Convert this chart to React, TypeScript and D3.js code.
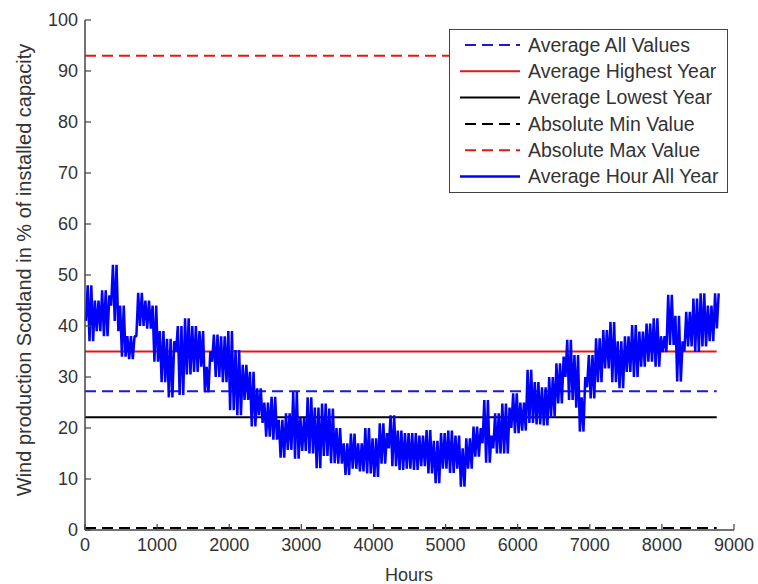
import React from "react";
import * as d3 from "d3";

// hourly average wind output, read off the picture as the band's
// low and high in every 50-hour bin (the plot holds 8760 points)
const BIN_HOURS = 50;
const binLow = [
  41, 37, 37, 39, 39, 38, 38, 44, 41, 39, 34, 34, 33.5, 33.5, 38, 40, 40, 39.5, 39.5, 33,
  33, 29, 29, 26, 26, 35, 26.5, 26.5, 30.5, 30.5, 31, 31, 32, 27, 27, 33, 30, 30, 29, 29,
  23.5, 23.5, 22.5, 22.5, 25.5, 25.5, 20.3, 20.3, 22.5, 21, 18.3, 18.3, 17.7, 17.7, 14.2, 14.2, 15.7, 15.7, 14, 14,
  15.5, 15.5, 15, 15, 12.1, 12.1, 14.5, 14.5, 13.1, 13.1, 13, 13, 10.8, 10.8, 12, 12, 11.5, 11.5, 11.1, 11.1,
  10.4, 10.4, 13, 13, 16, 12.5, 12.5, 11.8, 11.8, 12, 12, 11.8, 11.8, 12.5, 12.5, 11.1, 11.1, 9.2, 9.2, 12,
  12, 11.2, 11.2, 12, 8.5, 8.5, 12, 12, 14.4, 14.4, 17, 13.2, 13.2, 16, 15, 15, 15, 15, 20, 19,
  19, 19.5, 19.5, 21, 21, 20.7, 20.7, 20.5, 20.5, 22.2, 22.2, 24.8, 24.8, 30, 25.5, 25.5, 24, 19.3, 19.3, 28,
  25.8, 25.8, 29, 29, 31.7, 31.7, 29, 29, 27.8, 27.8, 31, 31, 30, 30, 32, 32, 33, 33, 32, 32,
  34.9, 34.9, 36.3, 36.3, 29.1, 29.1, 35, 36, 36, 34.9, 34.9, 36, 36, 37, 37, 39.5,
];
const binHigh = [
  48, 48, 45, 45, 47, 47, 46, 52, 52, 44, 44, 38, 38, 38, 46.5, 46.5, 45, 45, 44, 44,
  39, 39, 37.5, 37.5, 37, 40, 40, 41.5, 41.5, 40, 40, 39, 39, 32, 35, 38.3, 38.3, 38, 38, 39,
  39, 35.3, 35.3, 32.4, 32.4, 31, 31, 27.8, 27.8, 25, 25, 26.1, 26.1, 21.6, 21.6, 22.9, 22.9, 27.1, 27.1, 22,
  22, 26, 26, 24, 24, 24.8, 24.8, 23.8, 23.8, 20, 20, 17, 17, 18.9, 18.9, 17, 17, 20, 20, 18,
  18, 20.9, 20.9, 19, 22.5, 22.5, 19.5, 19.5, 19, 19, 19, 19, 18.5, 18.5, 19.6, 19.6, 17.5, 17.5, 19, 19,
  19.5, 19.5, 18.5, 18.5, 16, 18, 18, 20.3, 20.3, 20, 25.5, 25.5, 18.5, 22.9, 22.9, 24.8, 24.8, 24, 26.8, 26.8,
  25, 25, 31.4, 31.4, 29, 29, 28, 28, 30, 30, 32.7, 32.7, 34, 37.3, 37.3, 34.3, 34.3, 26, 30, 34.3,
  34.3, 37.6, 37.6, 39.2, 39.2, 40.8, 40.8, 37, 37, 38, 38, 40.2, 40.2, 38.9, 38.9, 40.5, 40.5, 41.5, 41.5, 38,
  38, 46.1, 46.1, 42, 42, 37, 42.8, 42.8, 45.4, 45.4, 46.4, 46.4, 44, 44, 46.4, 46.4,
];

const refLines = [
  { name: "Average All Values", value: 27.2, color: "#1a1ad8", dash: "11,6" },
  { name: "Average Highest Year", value: 35.0, color: "#e01818", dash: "" },
  { name: "Average Lowest Year", value: 22.1, color: "#000000", dash: "" },
  { name: "Absolute Min Value", value: 0.4, color: "#000000", dash: "11,6" },
  { name: "Absolute Max Value", value: 93.0, color: "#e01818", dash: "11,6" },
];
const seriesName = "Average Hour All Year";
const yearHours = 8760;

const xTicks = [0, 1000, 2000, 3000, 4000, 5000, 6000, 7000, 8000, 9000];
const yTicks = [0, 10, 20, 30, 40, 50, 60, 70, 80, 90, 100];

export default function App() {
  const x = d3.scaleLinear().domain([0, 9000]).range([85, 734]);
  const y = d3.scaleLinear().domain([0, 100]).range([530, 20]);

  // each bin becomes a low point then a high point, as a dense plot renders
  const pts = binLow.flatMap((lo, i) => [
    { h: i * BIN_HOURS + BIN_HOURS * 0.25, v: lo },
    { h: i * BIN_HOURS + BIN_HOURS * 0.75, v: binHigh[i] },
  ]);
  const line = d3
    .line<{ h: number; v: number }>()
    .x((d) => x(d.h))
    .y((d) => y(d.v));

  const font = "'Liberation Sans', Arial, sans-serif";
  const txt = "#333";
  const legendItems = [
    ...refLines.map((r) => ({ name: r.name, color: r.color, dash: r.dash, w: 2 })),
    { name: seriesName, color: "#0000ff", dash: "", w: 2.5 },
  ];

  return (
    <svg
      width={758}
      height={584}
      style={{ position: "absolute", left: 0, top: 0, background: "#fff" }}
      fontFamily={font}
    >
      {refLines.map((r) => (
        <line
          key={r.name}
          x1={x(0)}
          x2={x(yearHours)}
          y1={y(r.value)}
          y2={y(r.value)}
          stroke={r.color}
          strokeWidth={2}
          strokeDasharray={r.dash || undefined}
        />
      ))}
      <path d={line(pts) || ""} fill="none" stroke="#0000ff" strokeWidth={2.5} strokeLinejoin="bevel" />

      {/* axes */}
      <line x1={x(0)} x2={x(0)} y1={y(0)} y2={y(100)} stroke="#444" strokeWidth={1.5} />
      <line x1={x(0)} x2={x(9000)} y1={y(0)} y2={y(0)} stroke="#444" strokeWidth={1.5} />
      {yTicks.map((t) => (
        <g key={"y" + t}>
          <line x1={x(0)} x2={x(0) + 6} y1={y(t)} y2={y(t)} stroke="#444" strokeWidth={1.2} />
          <text x={78} y={y(t)} dy="0.35em" textAnchor="end" fontSize={18} fill={txt}>
            {t}
          </text>
        </g>
      ))}
      {xTicks.map((t) => (
        <g key={"x" + t}>
          <line x1={x(t)} x2={x(t)} y1={y(0)} y2={y(0) - 6} stroke="#444" strokeWidth={1.2} />
          <text x={x(t)} y={551} textAnchor="middle" fontSize={18} fill={txt}>
            {t}
          </text>
        </g>
      ))}
      <text x={409} y={581} textAnchor="middle" fontSize={18} fill={txt}>
        Hours
      </text>
      <text
        transform="translate(31,270) rotate(-90)"
        textAnchor="middle"
        fontSize={20}
        fill={txt}
      >
        Wind production Scotland in % of installed capacity
      </text>

      {/* legend */}
      <rect x={449.5} y={29.5} width={278} height={163} fill="#fff" stroke="#444" strokeWidth={1} />
      {legendItems.map((it, i) => {
        const cy = 45 + i * 26.3;
        return (
          <g key={it.name}>
            <line
              x1={it.dash ? 465 : 460}
              x2={520}
              y1={cy}
              y2={cy}
              stroke={it.color}
              strokeWidth={it.w}
              strokeDasharray={it.dash || undefined}
            />
            <text x={528} y={cy} dy="0.35em" fontSize={19.5} fill={txt}>
              {it.name}
            </text>
          </g>
        );
      })}
    </svg>
  );
}
